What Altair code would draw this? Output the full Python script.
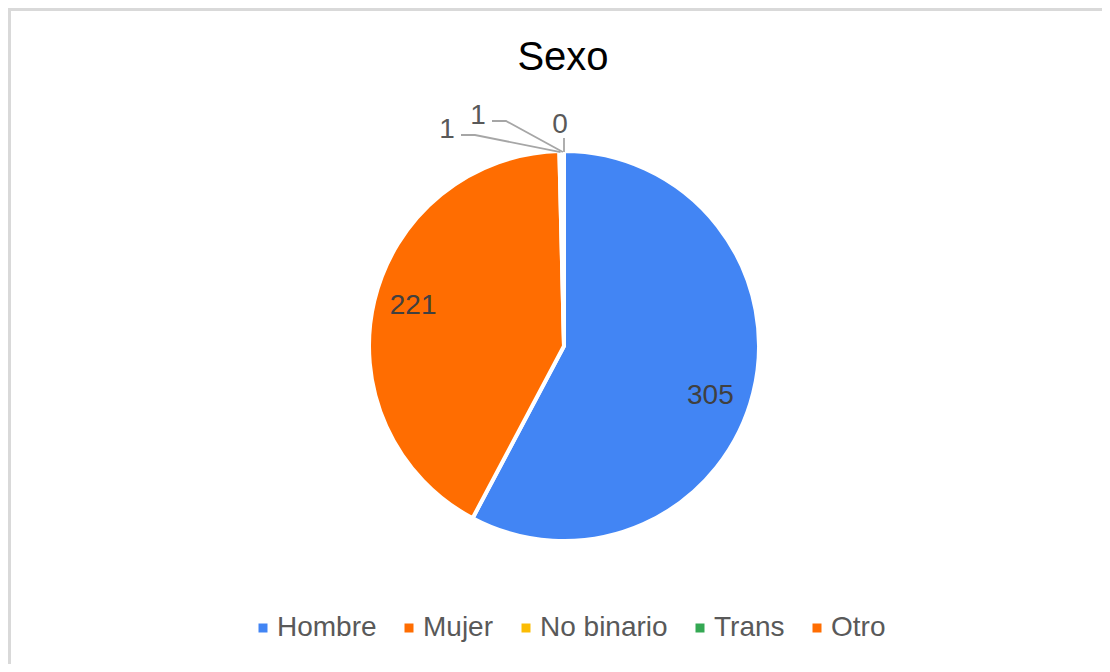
import altair as alt
import pandas as pd
import math

# ---- data ----
categories = ["Hombre", "Mujer", "No binario", "Trans", "Otro"]
counts = [305, 221, 1, 1, 0]
colors = ["#4285F4", "#FF6D01", "#FBBC04", "#34A853", "#FF6D01"]
title_text = "Sexo"

df = pd.DataFrame({"Sexo": categories, "valor": counts, "orden": list(range(len(categories)))})

# ---- layout ----
W, H = 1094, 656          # plot area (whole page minus 8px margins)
CX, CY = 556, 338         # pie centre inside the plot area
R = 195                   # pie radius
FONT = "Liberation Sans"

# leader-line label offsets for the tiny slices (layout only)
label_offsets = {"No binario": (-117, 216, "left"), "Trans": (-86, 230, "mid"), "Otro": (-4, 221, "zero")}
# nudges for the inside labels (layout only)
inside_nudge = {"Hombre": (-4, 13), "Mujer": (0, -4)}

total = sum(counts)
cum = 0
line_rows, small_rows = [], []
for cat, v in zip(categories, counts):
    mid = (cum + v / 2) / total * 2 * math.pi
    cum += v
    if cat not in label_offsets:
        continue
    ex, ey = (R - 1) * math.sin(mid), (R - 1) * math.cos(mid)
    lx, ly, kind = label_offsets[cat]
    small_rows.append({"Sexo": cat, "lab": str(v), "x": lx, "y": ly})
    if kind == "zero":
        pts = [(ex, ly - 13), (ex, ey)]
    else:
        pts = [(lx + 14, ly - 5), (lx + 28, ly - 5), (ex, ey)]
    for i, (px, py) in enumerate(pts):
        line_rows.append({"Sexo": cat, "i": i, "x": px, "y": py})

lines_df = pd.DataFrame(line_rows)
small_df = pd.DataFrame(small_rows)

xs = alt.Scale(domain=[-CX, W - CX], range=[0, W])
ys = alt.Scale(domain=[-(H - CY), CY], range=[H, 0])

color = alt.Color(
    "Sexo:N",
    scale=alt.Scale(domain=categories, range=colors),
    sort=categories,
    legend=alt.Legend(
        title=None, orient="none", direction="horizontal",
        legendX=241, legendY=606, symbolType="square", symbolSize=81,
        symbolStrokeWidth=0, labelFontSize=28, labelFont=FONT,
        labelColor="#595959", labelOffset=0, columnPadding=18, padding=0,
    ),
)

theta_scale = alt.Scale(domain=[0, total])
theta = alt.Theta("valor:Q", stack=True, scale=theta_scale)
order = alt.Order("orden:Q", sort="ascending")

pie = alt.Chart(df).mark_arc(radius=R, stroke="white", strokeWidth=4, x=CX, y=CY).encode(
    theta=theta, color=color, order=order
)

inside_layers = []
for cat, (ndx, ndy) in inside_nudge.items():
    inside_layers.append(
        alt.Chart(df).transform_window(
            cum="sum(valor)", sort=[alt.SortField("orden")], frame=[None, 0]
        ).transform_calculate(
            mid="datum.cum - datum.valor / 2"
        ).transform_filter(
            alt.datum.Sexo == cat
        ).mark_text(
            radius=155, fontSize=28, font=FONT, color="#404040", x=CX, y=CY, dx=ndx, dy=ndy
        ).encode(
            theta=alt.Theta("mid:Q", scale=theta_scale),
            text="valor:Q",
        )
    )

leaders = alt.Chart(lines_df).mark_line(color="#a6a6a6", strokeWidth=1.8).encode(
    x=alt.X("x:Q", scale=xs, axis=None),
    y=alt.Y("y:Q", scale=ys, axis=None),
    detail="Sexo:N",
    order="i:Q",
)

small_labels = alt.Chart(small_df).mark_text(fontSize=28, font=FONT, color="#595959").encode(
    x=alt.X("x:Q", scale=xs, axis=None),
    y=alt.Y("y:Q", scale=ys, axis=None),
    text="lab:N",
)

title = alt.Chart(pd.DataFrame({"t": [title_text]})).mark_text(
    fontSize=40, font=FONT, color="#000000"
).encode(x=alt.value(CX - 1), y=alt.value(50), text="t:N")

frame_top = alt.Chart(pd.DataFrame({"k": [0]})).mark_rule(color="#d9d9d9", strokeWidth=3).encode(
    x=alt.value(0), x2=alt.value(W), y=alt.value(1.5)
)
frame_left = alt.Chart(pd.DataFrame({"k": [0]})).mark_rule(color="#d9d9d9", strokeWidth=3).encode(
    x=alt.value(1.5), y=alt.value(0), y2=alt.value(H)
)

chart = alt.layer(frame_top, frame_left, pie, *inside_layers, leaders, small_labels, title).properties(
    width=W, height=H, padding=0, autosize=alt.AutoSizeParams(type="none")
).configure_view(strokeWidth=0, strokeOpacity=0)

chart.save("out.html", embed_options={"renderer": "svg", "actions": False})
